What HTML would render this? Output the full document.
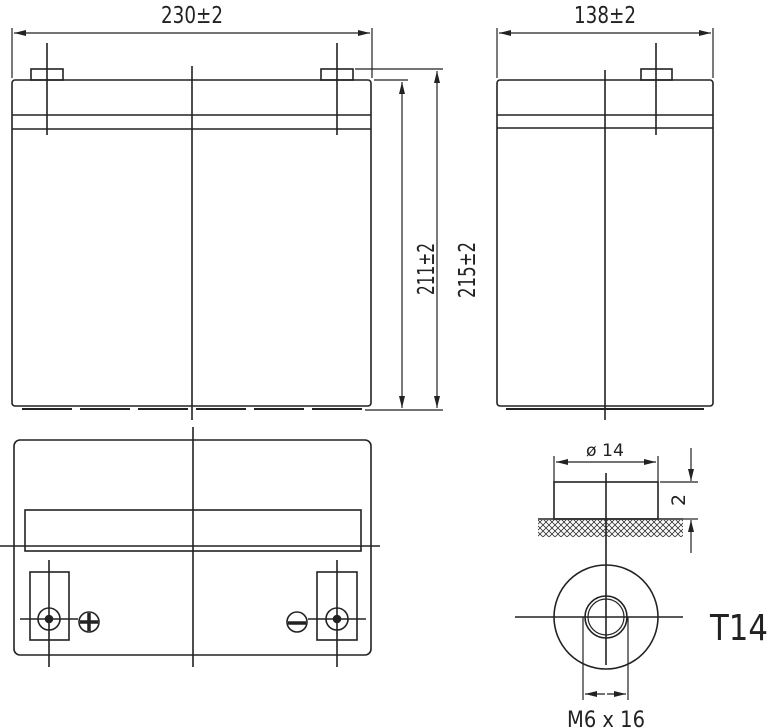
<!DOCTYPE html>
<html><head><style>html,body{margin:0;padding:0;background:#fff;}svg{display:block}</style></head>
<body>
<svg width="770" height="728" viewBox="0 0 770 728" xmlns="http://www.w3.org/2000/svg">
<defs>
<marker id="a" viewBox="0 0 12 6" refX="12" refY="3" markerWidth="12" markerHeight="6" orient="auto-start-reverse" markerUnits="userSpaceOnUse"><path d="M0,0 L12,3 L0,6 z" fill="#222"/></marker>
<pattern id="h" width="6" height="6" patternUnits="userSpaceOnUse"><path d="M0,0 L6,6 M6,0 L0,6" stroke="#333" stroke-width="0.8"/></pattern>
</defs>
<g stroke="#222" stroke-width="1.6" fill="none">
<!-- front view -->
<line x1="12" y1="28" x2="12" y2="78" stroke-width="1.2"/>
<line x1="372" y1="28" x2="372" y2="78" stroke-width="1.2"/>
<line x1="14" y1="33" x2="370" y2="33" stroke-width="1.2" marker-start="url(#a)" marker-end="url(#a)"/>
<rect x="31" y="69" width="32" height="11"/>
<rect x="321" y="69" width="32" height="11"/>
<rect x="12" y="80" width="359" height="326" rx="3"/>
<line x1="12" y1="115" x2="371" y2="115"/>
<line x1="12" y1="129" x2="371" y2="129"/>
<line x1="47" y1="43" x2="47" y2="135"/>
<line x1="337" y1="43" x2="337" y2="135"/>
<line x1="192" y1="66" x2="192" y2="420"/>
<path d="M22,409 H72 M80,409 H130 M138,409 H188 M196,409 H246 M254,409 H304 M312,409 H362" stroke-width="2"/>
<!-- height dims -->
<line x1="355" y1="69" x2="443" y2="69" stroke-width="1.2"/>
<line x1="374" y1="80" x2="408" y2="80" stroke-width="1.2"/>
<line x1="365" y1="410" x2="443" y2="410" stroke-width="1.2"/>
<line x1="402" y1="82" x2="402" y2="408" stroke-width="1.2" marker-start="url(#a)" marker-end="url(#a)"/>
<line x1="437" y1="71" x2="437" y2="408" stroke-width="1.2" marker-start="url(#a)" marker-end="url(#a)"/>
<!-- side view -->
<line x1="497" y1="28" x2="497" y2="78" stroke-width="1.2"/>
<line x1="713" y1="28" x2="713" y2="78" stroke-width="1.2"/>
<line x1="499" y1="33" x2="711" y2="33" stroke-width="1.2" marker-start="url(#a)" marker-end="url(#a)"/>
<rect x="641" y="69" width="31" height="11"/>
<rect x="497" y="80" width="216" height="326" rx="3"/>
<line x1="497" y1="115" x2="713" y2="115"/>
<line x1="497" y1="128" x2="713" y2="128"/>
<line x1="656" y1="43" x2="656" y2="135"/>
<line x1="605" y1="70" x2="605" y2="420"/>
<line x1="506" y1="409" x2="704" y2="409" stroke-width="2"/>
<!-- top view -->
<rect x="14" y="440" width="357" height="215" rx="6"/>
<rect x="25" y="510" width="336" height="41"/>
<line x1="0" y1="546" x2="380" y2="546"/>
<line x1="193" y1="427" x2="193" y2="667"/>
<rect x="30" y="572" width="39" height="68"/>
<rect x="317" y="572" width="40" height="68"/>
<circle cx="49" cy="619" r="11"/><circle cx="49" cy="619" r="3.5" fill="#222"/>
<circle cx="337" cy="619" r="11"/><circle cx="337" cy="619" r="3.5" fill="#222"/>
<line x1="20" y1="619" x2="78" y2="619"/><line x1="49" y1="560" x2="49" y2="667"/>
<line x1="308" y1="619" x2="366" y2="619"/><line x1="337" y1="560" x2="337" y2="667"/>
<circle cx="89" cy="622" r="10"/>
<path d="M80,622 H98 M89,613 V631" stroke-width="3.5"/>
<circle cx="297" cy="622" r="10"/>
<path d="M288,623 H306" stroke-width="3.5"/>
<!-- terminal detail -->
<rect x="538" y="520" width="145" height="17" fill="url(#h)" stroke="none"/>
<line x1="538" y1="519" x2="683" y2="519"/>
<rect x="554" y="482" width="104" height="37"/>
<line x1="554" y1="456" x2="554" y2="482" stroke-width="1.2"/>
<line x1="658" y1="456" x2="658" y2="482" stroke-width="1.2"/>
<line x1="556" y1="462" x2="656" y2="462" stroke-width="1.2" marker-start="url(#a)" marker-end="url(#a)"/>
<line x1="660" y1="482" x2="698" y2="482" stroke-width="1.2"/>
<line x1="683" y1="519" x2="698" y2="519" stroke-width="1.2"/>
<line x1="691" y1="448" x2="691" y2="481" stroke-width="1.2" marker-end="url(#a)"/>
<line x1="691" y1="553" x2="691" y2="520" stroke-width="1.2" marker-end="url(#a)"/>
<line x1="606" y1="473" x2="606" y2="665"/>
<circle cx="606" cy="617" r="52"/>
<circle cx="606" cy="617" r="21"/>
<circle cx="606" cy="617" r="18" stroke-width="1.2"/>
<line x1="515" y1="617" x2="683" y2="617"/>
<line x1="583" y1="617" x2="583" y2="700" stroke-width="1.2"/>
<line x1="628" y1="617" x2="628" y2="700" stroke-width="1.2"/>
<line x1="585" y1="694" x2="605" y2="694" stroke-width="1.2" marker-start="url(#a)"/>
<line x1="607" y1="694" x2="626" y2="694" stroke-width="1.2" marker-end="url(#a)"/>
</g>
<g fill="#222" font-family="'DejaVu Sans','Liberation Sans',sans-serif">
<text x="192" y="23" font-size="23" text-anchor="middle" textLength="62" lengthAdjust="spacingAndGlyphs">230±2</text>
<text x="605" y="23" font-size="23" text-anchor="middle" textLength="62" lengthAdjust="spacingAndGlyphs">138±2</text>
<text transform="translate(434,269) rotate(-90)" font-size="23" text-anchor="middle" textLength="52" lengthAdjust="spacingAndGlyphs">211±2</text>
<text transform="translate(475,270) rotate(-90)" font-size="23" text-anchor="middle" textLength="56" lengthAdjust="spacingAndGlyphs">215±2</text>
<text x="605" y="456" font-size="17" text-anchor="middle" textLength="38" lengthAdjust="spacingAndGlyphs">ø 14</text>
<text transform="translate(685,500) rotate(-90)" font-size="19" text-anchor="middle">2</text>
<text x="739" y="640" font-size="36" text-anchor="middle" textLength="58" lengthAdjust="spacingAndGlyphs">T14</text>
<text x="606" y="727" font-size="22" text-anchor="middle" textLength="78" lengthAdjust="spacingAndGlyphs">M6 x 16</text>
</g>
</svg>
</body></html>
